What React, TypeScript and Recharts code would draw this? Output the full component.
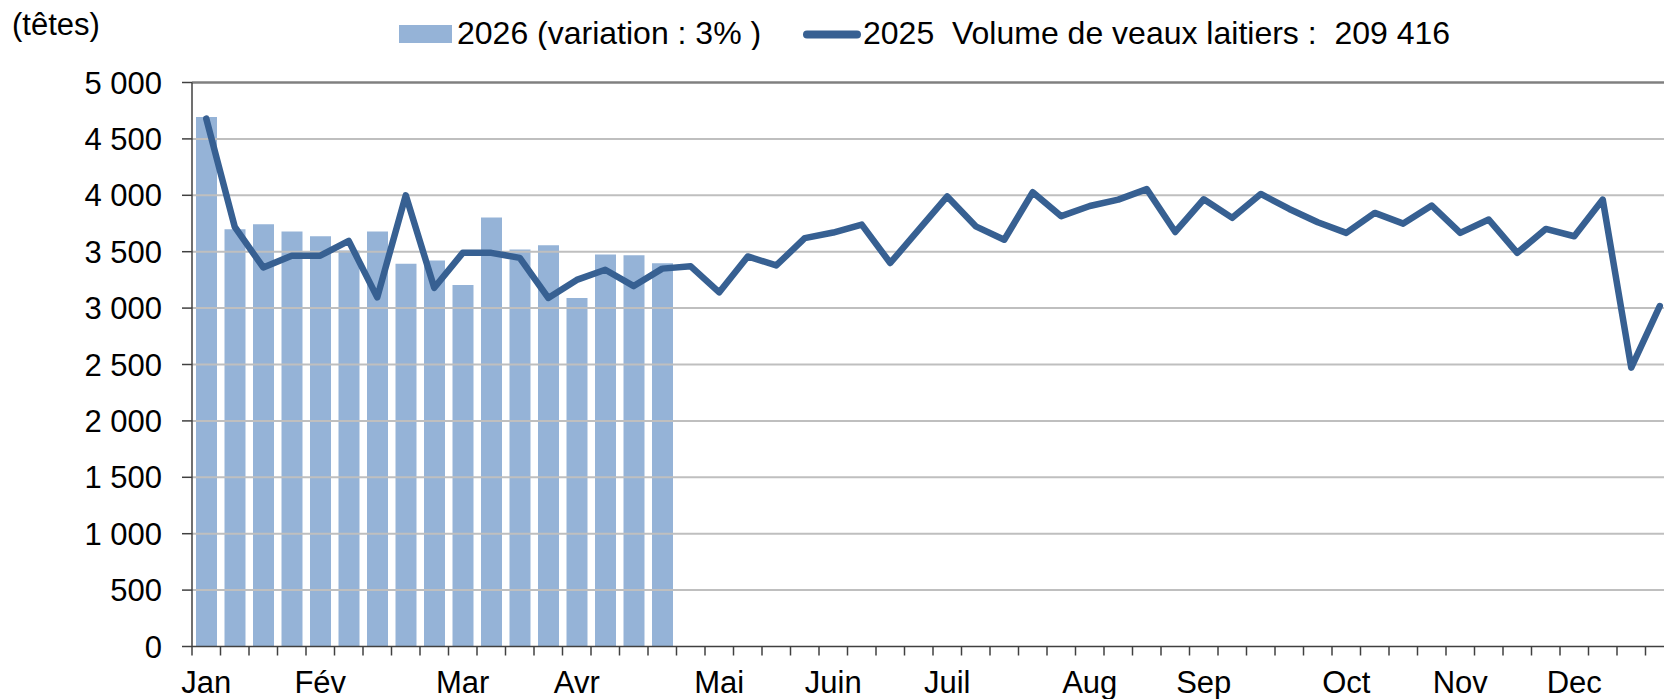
import React from "react";
import {
  ComposedChart,
  Bar,
  Line,
  XAxis,
  YAxis,
  ReferenceLine,
  Legend,
} from "recharts";

const weeks = [
  1, 2, 3, 4, 5, 6, 7, 8, 9, 10, 11, 12, 13, 14, 15, 16, 17, 18, 19, 20, 21, 22, 23, 24, 25, 26,
  27, 28, 29, 30, 31, 32, 33, 34, 35, 36, 37, 38, 39, 40, 41, 42, 43, 44, 45, 46, 47, 48, 49, 50, 51, 52,
];

const monthLabels: Record<number, string> = {
  1: "Jan",
  5: "Fév",
  10: "Mar",
  14: "Avr",
  19: "Mai",
  23: "Juin",
  27: "Juil",
  32: "Aug",
  36: "Sep",
  41: "Oct",
  45: "Nov",
  49: "Dec",
};

const volume2026 = [
  4695, 3700, 3743, 3680, 3638, 3510, 3678, 3393, 3423, 3205, 3803, 3519, 3558, 3090, 3475, 3469, 3397,
];

const volume2025 = [
  4680, 3720, 3360, 3465, 3465, 3595, 3095, 4000, 3180, 3490, 3490, 3445, 3090, 3250, 3340, 3195,
  3350, 3370, 3140, 3458, 3378, 3620, 3670, 3740, 3400, 3695, 3990, 3725, 3606, 4027, 3815, 3905,
  3962, 4055, 3675, 3965, 3800, 4012, 3879, 3761, 3667, 3844, 3749, 3909, 3667, 3785, 3490, 3702,
  3637, 3962, 2472, 3018,
];

const yTicks = [0, 500, 1000, 1500, 2000, 2500, 3000, 3500, 4000, 4500, 5000];

const unitLabel = "(têtes)";
const name2026 = "2026 (variation : 3% )";
const name2025 = "2025  Volume de veaux laitiers :  209 416";

const data = weeks.map((w, i) => ({
  week: w,
  v2026: i < volume2026.length ? volume2026[i] : null,
  v2025: volume2025[i],
}));

const FONT = "'Liberation Sans', Arial, Helvetica, sans-serif";
const BAR_COLOR = "#95b3d7";
const LINE_COLOR = "#376092";
const AXIS_COLOR = "#404040";

const fmt = (v: number) => {
  const s = String(v);
  return s.length > 3 ? s.slice(0, s.length - 3) + " " + s.slice(s.length - 3) : s;
};

const WeekTick = (props: any) => {
  const { x, y, payload } = props;
  const off = payload && payload.offset != null ? payload.offset : 14.25;
  const label = monthLabels[payload.value] || "";
  return (
    <g>
      <line x1={x - off} x2={x - off} y1={y} y2={y + 9} stroke={AXIS_COLOR} strokeWidth={1.5} />
      {label && (
        <text x={x} y={y + 46.5} textAnchor="middle" fontSize={31} fill="#000" fontFamily={FONT}>
          {label}
        </text>
      )}
    </g>
  );
};

const LegendContent = () => (
  <svg width={1664} height={50} style={{ display: "block" }}>
    <text x={12} y={35} fontSize={31} fill="#000" fontFamily={FONT}>
      {unitLabel}
    </text>
    <rect x={399} y={25} width={53} height={18} fill={BAR_COLOR} />
    <text x={457} y={44} fontSize={32} fill="#000" fontFamily={FONT} style={{ whiteSpace: "pre" }}>
      {name2026}
    </text>
    <line x1={807} x2={857} y1={34.5} y2={34.5} stroke={LINE_COLOR} strokeWidth={8} strokeLinecap="round" />
    <text x={863} y={44} fontSize={32} fill="#000" fontFamily={FONT} style={{ whiteSpace: "pre" }}>
      {name2025}
    </text>
  </svg>
);

export default function App() {
  const top = yTicks[yTicks.length - 1];
  return (
    <div
      style={{
        position: "fixed",
        left: 0,
        top: 0,
        width: 1664,
        height: 699,
        overflow: "hidden",
        background: "#fff",
        fontFamily: FONT,
      }}
    >
      <ComposedChart
        width={1664}
        height={699}
        data={data}
        margin={{ top: 32.5, right: -10, bottom: 0, left: 0 }}
        style={{ fontFamily: FONT }}
      >
        <Legend
          verticalAlign="top"
          align="left"
          content={() => <LegendContent />}
          wrapperStyle={{ position: "absolute", top: 0, left: 0, width: 1664, height: 50, margin: 0, padding: 0 }}
        />
        <XAxis
          dataKey="week"
          height={52.5}
          interval={0}
          tickLine={false}
          tickSize={0}
          tickMargin={0}
          tick={<WeekTick />}
          axisLine={{ stroke: AXIS_COLOR, strokeWidth: 1.5 }}
        />
        <YAxis
          width={192}
          domain={[0, 5000]}
          ticks={yTicks}
          interval={0}
          tickFormatter={fmt}
          tickSize={10}
          tickMargin={20}
          tick={{ fontSize: 31, fill: "#000", fontFamily: FONT }}
          tickLine={{ stroke: AXIS_COLOR, strokeWidth: 1.5 }}
          axisLine={{ stroke: AXIS_COLOR, strokeWidth: 1.5 }}
        />
        {yTicks
          .filter((t) => t > 0 && t < top)
          .map((t) => (
            <ReferenceLine key={t} y={t} stroke="#bfbfbf" strokeWidth={2} />
          ))}
        <ReferenceLine y={top} stroke="#808080" strokeWidth={2.5} />
        <Bar dataKey="v2026" fill={BAR_COLOR} barSize={21} isAnimationActive={false} />
        <Line
          type="linear"
          dataKey="v2025"
          stroke={LINE_COLOR}
          strokeWidth={6.5}
          strokeLinejoin="round"
          strokeLinecap="round"
          dot={false}
          activeDot={false}
          isAnimationActive={false}
        />
      </ComposedChart>
    </div>
  );
}
